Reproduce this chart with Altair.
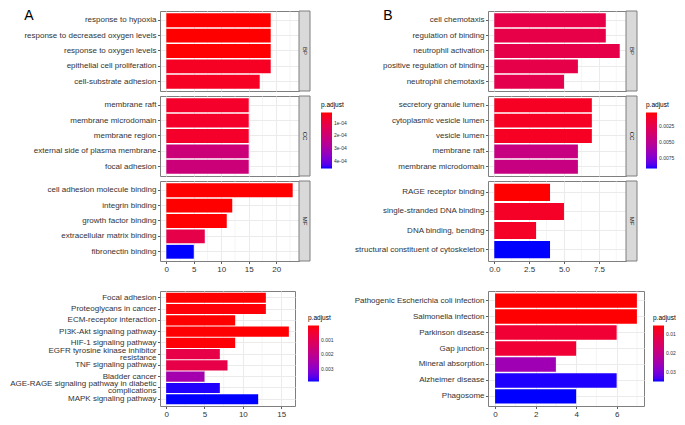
import altair as alt
import pandas as pd

FONT = "Liberation Sans"

# ---------------- data ----------------
facets = ["BP", "CC", "MF"]

# Panel A, GO enrichment
a_go_term = [
    "response to hypoxia", "response to decreased oxygen levels", "response to oxygen levels",
    "epithelial cell proliferation", "cell-substrate adhesion",
    "membrane raft", "membrane microdomain", "membrane region",
    "external side of plasma membrane", "focal adhesion",
    "cell adhesion molecule binding", "integrin binding", "growth factor binding",
    "extracellular matrix binding", "fibronectin binding",
]
a_go_cat = ["BP", "BP", "BP", "BP", "BP", "CC", "CC", "CC", "CC", "CC", "MF", "MF", "MF", "MF", "MF"]
a_go_count = [19, 19, 19, 19, 17, 15, 15, 15, 15, 15, 23, 12, 11, 7, 5]
a_go_padj = [2.0e-5, 2.0e-5, 2.2e-5, 5.5e-5, 5.5e-5, 6.5e-5, 6.5e-5, 6.5e-5, 2.1e-4, 2.1e-4,
             2.0e-5, 2.0e-5, 2.2e-5, 1.2e-4, 4.6e-4]

# Panel A, KEGG enrichment
a_kegg_term = [
    "Focal adhesion", "Proteoglycans in cancer", "ECM-receptor interaction",
    "PI3K-Akt signaling pathway", "HIF-1 signaling pathway",
    "EGFR tyrosine kinase inhibitor|resistance", "TNF signaling pathway", "Bladder cancer",
    "AGE-RAGE signaling pathway in diabetic|complications", "MAPK signaling pathway",
]
a_kegg_count = [13, 13, 9, 16, 9, 7, 8, 5, 7, 12]
a_kegg_padj = [1.5e-5, 6.0e-5, 1.5e-5, 4.0e-5, 5.0e-5, 8.5e-4, 8.5e-4, 2.6e-3, 3.85e-3, 3.9e-3]

# Panel B, GO enrichment
b_go_term = [
    "cell chemotaxis", "regulation of binding", "neutrophil activation",
    "positive regulation of binding", "neutrophil chemotaxis",
    "secretory granule lumen", "cytoplasmic vesicle lumen", "vesicle lumen",
    "membrane raft", "membrane microdomain",
    "RAGE receptor binding", "single-stranded DNA binding", "DNA binding, bending",
    "structural constituent of cytoskeleton",
]
b_go_cat = ["BP", "BP", "BP", "BP", "BP", "CC", "CC", "CC", "CC", "CC", "MF", "MF", "MF", "MF"]
b_go_count = [8, 8, 9, 6, 5, 7, 7, 7, 6, 6, 4, 5, 3, 4]
b_go_padj = [0.0023, 0.0023, 0.0024, 0.0024, 0.0025, 0.0011, 0.0011, 0.0011, 0.0045, 0.0045,
             0.0004, 0.0012, 0.0012, 0.0092]

# Panel B, KEGG enrichment
b_kegg_term = [
    "Pathogenic Escherichia coli infection", "Salmonella infection", "Parkinson disease",
    "Gap junction", "Mineral absorption", "Alzheimer disease", "Phagosome",
]
b_kegg_count = [7, 7, 6, 4, 3, 6, 4]
b_kegg_padj = [0.0054, 0.0055, 0.0095, 0.0095, 0.026, 0.035, 0.0353]

# axis tick values and legend label values
a_go_ticks = [0, 5, 10, 15, 20]
a_kegg_ticks = [0, 5, 10, 15]
b_go_ticks = [0, 2.5, 5, 7.5]
b_kegg_ticks = [0, 2, 4, 6]
a_go_legend = [1e-4, 2e-4, 3e-4, 4e-4]
a_kegg_legend = [0.001, 0.002, 0.003]
b_go_legend = [0.0025, 0.005, 0.0075]
b_kegg_legend = [0.01, 0.02, 0.03]


# ---------------- helpers ----------------
def minor_of(ticks, hi):
    step = ticks[1] - ticks[0]
    vals = [t + step / 2 for t in ticks]
    return [v for v in vals if v < hi]


def make_legend(values, legend_x, legend_y, fmt=None, expr=None):
    kw = dict(title="p.adjust", orient="none", legendX=legend_x, legendY=legend_y,
              direction="vertical", values=values, labelOverlap=False)
    if fmt:
        kw["format"] = fmt
    if expr:
        kw["labelExpr"] = expr
    return alt.Legend(**kw)


def unit(df, width, height, xdom, ticks, xfmt, show_x, cdom, legend, ext_l,
         strip=None, letter=None, letter_x=0):
    terms = list(df["term"])
    xscale = alt.Scale(domain=xdom, nice=False, zero=False)

    def xaxis():
        return alt.Axis(values=ticks, format=xfmt, grid=True, labels=show_x,
                        ticks=show_x, domain=False, labelFlush=False)

    rules = alt.Chart(pd.DataFrame({"count": minor_of(ticks, xdom[1])})).mark_rule(
        color="#ebebeb", strokeWidth=0.5
    ).encode(x=alt.X("count:Q", scale=xscale, title=None, axis=xaxis()))
    bars = alt.Chart(df).mark_bar().encode(
        x=alt.X("count:Q", scale=xscale, title=None, axis=xaxis()),
        y=alt.Y("term:N", sort=terms, title=None,
                scale=alt.Scale(paddingInner=0.1, paddingOuter=0.15),
                axis=alt.Axis(grid=True, bandPosition=0.5, domain=False,
                              labelExpr="split(datum.label, '|')", labelLineHeight=7,
                              labelOffset={"condition": {"test": "indexof(datum.value, '|') >= 0",
                                                         "value": -3.5}, "value": 0},
                              labelLimit=300)),
        color=alt.Color("p:Q", legend=legend,
                        scale=alt.Scale(domain=cdom, range=["#0000ff", "#ff0000"],
                                        interpolate="lab", nice=False, zero=False)),
    )
    layers = [rules, bars]
    if strip:
        sdf = pd.DataFrame({"s": [strip]})
        layers.append(alt.Chart(sdf).mark_rect(fill="#d9d9d9", stroke="#7f7f7f", strokeWidth=1).encode(
            x=alt.value(width), x2=alt.value(width + 11), y=alt.value(0), y2=alt.value(height)))
        layers.append(alt.Chart(sdf).mark_text(angle=90, font=FONT, fontSize=6, color="#1a1a1a").encode(
            x=alt.value(width + 5.5), y=alt.value(height / 2), text="s:N"))
    layers.append(alt.Chart(pd.DataFrame({"e": [0]})).mark_rect(fill="white").encode(
        x=alt.value(-ext_l), x2=alt.value(-ext_l + 1), y=alt.value(0), y2=alt.value(1)))
    if letter:
        layers.append(alt.Chart(pd.DataFrame({"t": [letter]})).mark_text(
            font=FONT, fontSize=14, color="black", align="center", baseline="middle").encode(
            x=alt.value(letter_x), y=alt.value(5), text="t:N"))
    return alt.layer(*layers).properties(width=width, height=height)


def go_block(terms, cats, counts, padj, width, height, ticks, xfmt, lvals, lfmt, lexpr,
             legend_x, legend_y, ext_l, letter, letter_x):
    df = pd.DataFrame({"term": terms, "cat": cats, "count": counts, "p": padj})
    m = max(counts)
    xdom = [-0.05 * m, 1.05 * m]
    cdom = [max(padj), min(padj)]
    present = [f for f in facets if (df["cat"] == f).any()]
    panels = []
    for i, f in enumerate(present):
        sub = df[df["cat"] == f].reset_index(drop=True)
        lg = make_legend(lvals, legend_x, legend_y, lfmt, lexpr) if f == "CC" else None
        panels.append(unit(sub, width, height, xdom, ticks, xfmt, i == len(present) - 1, cdom, lg,
                           ext_l, strip=f, letter=letter if i == 0 else None, letter_x=letter_x))
    return alt.vconcat(*panels, spacing=3).resolve_scale(color="independent")


def kegg_block(terms, counts, padj, width, height, ticks, xfmt, lvals, lfmt, legend_x, legend_y, ext_l):
    df = pd.DataFrame({"term": terms, "count": counts, "p": padj})
    m = max(counts)
    xdom = [-0.05 * m, 1.05 * m]
    cdom = [max(padj), min(padj)]
    lg = make_legend(lvals, legend_x, legend_y, lfmt)
    return unit(df, width, height, xdom, ticks, xfmt, True, cdom, lg, ext_l)


FH = 80
a_top = go_block(a_go_term, a_go_cat, a_go_count, a_go_padj, 139, FH, a_go_ticks, "d",
                 a_go_legend, None, "replace(format(datum.value, '.0e'), 'e-', 'e-0')",
                 161, 6, 151, "A", -131)
a_bot = kegg_block(a_kegg_term, a_kegg_count, a_kegg_padj, 135, 115, a_kegg_ticks, "d",
                   a_kegg_legend, ".3f", 148, 24, 151)
b_top = go_block(b_go_term, b_go_cat, b_go_count, b_go_padj, 138, FH, b_go_ticks, ".1f",
                 b_go_legend, ".4f", None, 158, 6, 135, "B", -100)
b_bot = kegg_block(b_kegg_term, b_kegg_count, b_kegg_padj, 156, 115, b_kegg_ticks, "d",
                   b_kegg_legend, ".2f", 165, 24, 135)

col_a = alt.vconcat(a_top, a_bot, spacing=16).resolve_scale(color="independent")
col_b = alt.vconcat(b_top, b_bot, spacing=16).resolve_scale(color="independent")

chart = alt.hconcat(col_a, col_b, spacing=4).resolve_scale(color="independent").properties(
    padding=0, background="white"
).configure_view(
    stroke="#7f7f7f", strokeWidth=1
).configure_axis(
    labelFont=FONT, labelFontSize=8, labelColor="#333333", tickColor="#333333",
    tickSize=2.5, tickWidth=0.8, labelPadding=1.5, gridColor="#ebebeb", gridWidth=1,
).configure_legend(
    titleFont=FONT, titleFontSize=6.5, titleFontWeight="normal", titleColor="black",
    labelFont=FONT, labelFontSize=5, labelColor="#333333", gradientLength=56,
    gradientThickness=11, gradientStrokeWidth=0, titlePadding=4, labelOffset=3, padding=0,
)

chart.save("out.html", embed_options={"renderer": "svg", "actions": False})
